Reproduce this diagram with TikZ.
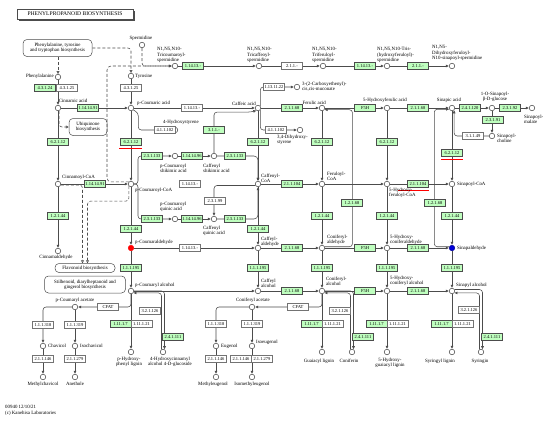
\documentclass[tikz,border=0pt]{standalone}
\usepackage{fontspec}
\setmainfont{Liberation Serif}
\usetikzlibrary{arrows.meta,calc}
\definecolor{kg}{HTML}{BFFFBF}
\begin{document}
\begin{tikzpicture}[x=1pt,y=-1pt,font=\fontsize{4.9}{5.2}\selectfont]
\tikzset{
 cpd/.style={circle,draw=black!75,fill=white,minimum size=5.5pt,inner sep=0,line width=0.5pt},
 ecg/.style={draw=black!70,fill=kg,minimum width=21pt,minimum height=7pt,inner sep=0,line width=0.4pt,font=\fontsize{4.5}{5}\selectfont},
 ecw/.style={ecg,fill=white,draw=black!55},
 lbl/.style={inner sep=0,align=center},
 lbll/.style={inner sep=0,align=left,anchor=west},
 mapb/.style={draw=black!70,rounded corners=4pt,align=center,inner sep=1pt,line width=0.5pt,fill=white},
 ln/.style={draw=black!70,line width=0.55pt},
 ar/.style={ln,-{Latex[length=3.2pt,width=3pt]}},
 da/.style={ln,dash pattern=on 3pt off 2pt},
 oa/.style={-{Triangle[open,length=3pt,width=3pt]}},
 ru/.style={draw=red,line width=0.8pt},
}
\useasboundingbox (0,0) rectangle (550,423);
\fill[white] (0,0) rectangle (550,423);
% ---------- compounds
\node[cpd] (phe) at (58,77) {};
\node[cpd] (tyr) at (131,76) {};
\node[cpd] (cin) at (58,108) {};
\node[cpd] (pcou) at (131,108) {};
\node[cpd] (caf) at (258,108) {};
\node[cpd] (fer) at (322,108) {};
\node[cpd] (hfer) at (387,108) {};
\node[cpd] (sin) at (452,108) {};
\node[cpd] (sglc) at (492,108) {};
\node[cpd] (smal) at (532,108) {};
\node[cpd] (schol) at (492,136) {};
\node[cpd] (spd) at (142,45) {};
\node[cpd] (tcs) at (175,66) {};
\node[cpd] (tcafs) at (259,66) {};
\node[cpd] (tfs) at (323,66) {};
\node[cpd] (thfs) at (387,66) {};
\node[cpd] (dhfs) at (452,66) {};
\node[cpd] (hsty) at (175,130) {};
\node[cpd] (dhsty) at (300,130) {};
\node[cpd] (carbm) at (297,87) {};
\node[cpd] (pcs) at (175,156) {};
\node[cpd] (cs) at (214,156) {};
\node[cpd] (pcq) at (175,219) {};
\node[cpd] (cq) at (214,219) {};
\node[cpd] (cincoa) at (58,184) {};
\node[cpd] (pcoa) at (131,184) {};
\node[cpd] (cafcoa) at (258,184) {};
\node[cpd] (fercoa) at (322,184) {};
\node[cpd] (hfcoa) at (387,184) {};
\node[cpd] (sincoa) at (452,184) {};
\node[cpd] (cinald) at (58,251) {};
\node[cpd,fill=red,draw=red] (pcald) at (131,248) {};
\node[cpd] (cafald) at (258,248) {};
\node[cpd] (conald) at (322,248) {};
\node[cpd] (hconald) at (387,248) {};
\node[cpd,fill=blue!85!black,draw=blue!60!black] (sinald) at (452,248) {};
\node[cpd] (pcalc) at (131,291) {};
\node[cpd] (cafalc) at (258,291) {};
\node[cpd] (conalc) at (322,291) {};
\node[cpd] (hconalc) at (387,291) {};
\node[cpd] (sinalc) at (452,291) {};
\node[cpd] (pcac) at (75,307) {};
\node[cpd] (chav) at (43,346) {};
\node[cpd] (isochav) at (75,346) {};
\node[cpd] (mchav) at (43,377) {};
\node[cpd] (anet) at (75,377) {};
\node[cpd] (phl) at (131,352) {};
\node[cpd] (pcglc) at (163,352) {};
\node[cpd] (conac) at (252,307) {};
\node[cpd] (eug) at (216,346) {};
\node[cpd] (isoeug) at (252,346) {};
\node[cpd] (meug) at (216,377) {};
\node[cpd] (imeug) at (252,377) {};
\node[cpd] (gl) at (322,352) {};
\node[cpd] (coni) at (352,352) {};
\node[cpd] (hgl) at (387,352) {};
\node[cpd] (sl) at (452,352) {};
\node[cpd] (syr) at (481,352) {};
% ---------- pathway maps
\node[mapb,minimum width=69pt,minimum height=17pt] (mphe) at (57.5,48) {Phenylalanine, tyrosine\\and tryptophan biosynthesis};
\node[mapb,minimum width=38pt,minimum height=17pt] (mubi) at (88,127) {Ubiquinone\\biosynthesis};
\node[mapb,minimum width=60pt,minimum height=9pt] (mflav) at (85,268) {Flavonoid biosynthesis};
\node[mapb,minimum width=81pt,minimum height=17pt] (mstil) at (85,284.5) {Stilbenoid, diarylheptanoid and\\gingerol biosynthesis};
% ---------- title
\draw[black!70,line width=1.2pt] (18.5,20) -- (134,20) -- (134,10.5);
\node[draw=black!70,line width=0.6pt,fill=white,minimum width=116pt,minimum height=10pt,inner sep=0,font=\fontsize{5.6}{6}\selectfont] (title) at (75,14) {PHENYLPROPANOID BIOSYNTHESIS};
% ---------- connectors
\draw[da,oa] (mphe.south -| phe) -- (phe);
\draw[da,oa,rounded corners=3] (mphe.east) -| (tyr.north);
\draw[ar] (phe) -- (cin);
\draw[ar] (tyr) -- (pcou);
\draw[ar] (cin) -- (pcou);
\draw[da,oa,rounded corners=3] (cin.-70) |- (mubi.west);
\draw[ar] (cin) -- (cincoa);
\draw[ar] (pcou) -- (pcoa);
\draw[ar] (cincoa) -- (pcoa);
\draw[ar] (pcou) -- (caf);
\draw[ar,rounded corners=3] (pcou.-40) -- ++(5,3) |- (hsty);
\draw[ar,rounded corners=3] (caf.40) |- (carbm);
\draw[ar,rounded corners=3] (caf.-40) |- (dhsty);
\draw[ar] (caf) -- (fer);
\draw[ar] (fer) -- (hfer);
\draw[ar] (hfer) -- (sin);
\draw[ar] (sin) -- (sglc);
\draw[ar] (sglc) -- (smal);
\draw[ar] (sglc) -- (schol);
\draw[ar,rounded corners=3] (schol.west) -| (sin.-45);
\draw[ar] (caf) -- (cafcoa);
\draw[ar] (fer) -- (fercoa);
\draw[ar] (hfer) -- (hfcoa);
\draw[ar] (sin) -- (sincoa);
\draw[ar] (cafcoa) -- (fercoa);
\draw[ar] (fercoa) -- (hfcoa);
\draw[ar] (hfcoa) -- (sincoa);
\draw[ar] (cincoa) -- (cinald);
\draw[ar] (pcoa) -- (pcald);
\draw[ar] (cafcoa) -- (cafald);
\draw[ar] (fercoa) -- (conald);
\draw[ar] (hfcoa) -- (hconald);
\draw[ar] (sincoa) -- (sinald);
\draw[ar] (pcald) -- (cafald);
\draw[ar] (cafald) -- (conald);
\draw[ar] (conald) -- (hconald);
\draw[ar] (hconald) -- (sinald);
\draw[ar,rounded corners=3] (conald.25) -| ($(fer.-35)+(28,0)$) -- (fer.-35);
\draw[ar,rounded corners=3] (sinald.155) -| ($(sin.205)+(-15,0)$) -- (sin.205);
% shikimate / quinate
\draw[ar,rounded corners=3] (pcoa.east) -- ++(4,0) |- (pcs.west);
\draw[ar,rounded corners=3] (pcoa.east) -- ++(4,0) |- (pcq.west);
\draw[ar] (pcs) -- (cs);
\draw[ar] (pcq) -- (cq);
\draw[ar,rounded corners=4] (cs.east) -| (cafcoa.north);
\draw[ar,rounded corners=4] (cq.east) -| (cafcoa.south);
\draw[ar,rounded corners=3] (cs.north) |- ($(caf.-120)+(-6,1.5)$) -- (caf.-120);
\draw[ar,rounded corners=3] (cafcoa.-150) -| (cq.north);
% spermidine
\draw[da,-{Latex[length=3.2pt,width=3pt]},rounded corners=3] (spd.south) |- (tcs.west);
\draw[da,-{Latex[length=3.2pt,width=3pt]},rounded corners=4] (pcoa.north west) -| (107,66) -- (tcs.west);
\draw[ar] (tcs) -- (tcafs);
\draw[ar] (tcafs) -- (tfs);
\draw[ar] (tfs) -- (thfs);
\draw[ar] (thfs) -- (dhfs);
% flavonoid
\draw[da,oa,rounded corners=3] (cincoa.-20) -| ($(mflav.north)+(-2.5,0)$);
\draw[da,oa,rounded corners=3] (pcoa.225) -- ++(0,15) -| ($(mflav.north)+(2.5,0)$);
% alcohols
\draw[ar] (pcald) -- (pcalc);
\draw[ar] (cafald) -- (cafalc);
\draw[ar] (conald) -- (conalc);
\draw[ar] (hconald) -- (hconalc);
\draw[ar] (sinald) -- (sinalc);
\draw[ar] (pcalc) -- (cafalc);
\draw[ar] (cafalc) -- (conalc);
\draw[ar] (conalc) -- (hconalc);
\draw[ar] (hconalc) -- (sinalc);
\draw[ar] (pcalc) -- (phl);
\draw[ar] (conalc) -- (gl);
\draw[ar] (hconalc) -- (hgl);
\draw[ar] (sinalc) -- (sl);
\draw[ar,rounded corners=3] (pcalc.east) -| (pcglc.60);
\draw[ar,rounded corners=3] (pcglc.120) |- (pcalc.-40);
\draw[ar,rounded corners=3] (conalc.east) -| (coni.60);
\draw[ar,rounded corners=3] (coni.120) |- (conalc.-40);
\draw[ar,rounded corners=3] (sinalc.30) -| (syr.60);
\draw[ar,rounded corners=3] (syr.120) |- (sinalc.-40);
\draw[ar,rounded corners=3] (pcalc.south) |- (pcac.east);
\draw[ar,rounded corners=3] (conalc.south) |- (conac.east);
\draw[ar,rounded corners=3] (pcac.west) -| (chav.north);
\draw[ar] (pcac) -- (isochav);
\draw[ar] (chav) -- (mchav);
\draw[ar] (isochav) -- (anet);
\draw[ar,rounded corners=3] (conac.west) -| (eug.north);
\draw[ar] (conac) -- (isoeug);
\draw[ar] (eug) -- (meug);
\draw[ar] (isoeug) -- (imeug);
% ---------- enzymes
\node[ecg] (e1) at (45,88) {4.3.1.24};
\node[ecw] (e2) at (67,88) {4.3.1.25};
\node[ecw] (e3) at (131,88) {4.3.1.25};
\node[ecg] (e4) at (88,108) {1.14.14.91};
\node[ecg] (e5) at (58,142) {6.2.1.12};
\node[ecg] (e6) at (131,142) {6.2.1.12};
\node[ecw] (e7) at (192,108) {1.14.13.-};
\node[ecw] (e8) at (165,130) {4.1.1.102};
\node[ecg] (e9) at (214,130) {3.1.1.-};
\node[ecw] (e10) at (274,87) {1.13.11.22};
\node[ecw] (e11) at (276,130) {4.1.1.102};
\node[ecg] (e12) at (258,142) {6.2.1.12};
\node[ecg] (e13) at (292,108) {2.1.1.68};
\node[ecg] (e14) at (322,142) {6.2.1.12};
\node[ecg] (e15) at (365,108) {F5H};
\node[ecg] (e16) at (387,142) {6.2.1.12};
\node[ecg] (e17) at (418,108) {2.1.1.68};
\node[ecg] (e18) at (470,108) {2.4.1.120};
\node[ecg] (e19) at (510,108) {2.3.1.92};
\node[ecg] (e20) at (493,120) {2.3.1.91};
\node[ecw] (e21) at (473,136) {3.1.1.49};
\node[ecg] (e22) at (452,153) {6.2.1.12};
\node[ecg] (e23) at (193,66) {1.14.13.-};
\node[ecw] (e24) at (292,66) {2.1.1.-};
\node[ecg] (e25) at (365,66) {1.14.13.-};
\node[ecg] (e26) at (418,66) {2.1.1.-};
\node[ecg] (e27) at (152,156) {2.3.1.133};
\node[ecg] (e28) at (192,156) {1.14.14.96};
\node[ecg] (e29) at (235,156) {2.3.1.133};
\node[ecg] (e30) at (95,184) {1.14.14.91};
\node[ecw] (e31) at (190,184) {1.14.13.-};
\node[ecw] (e32) at (215,201) {2.3.1.99};
\node[ecg] (e33) at (152,219) {2.3.1.133};
\node[ecg] (e34) at (192,219) {1.14.14.96};
\node[ecg] (e35) at (235,219) {2.3.1.133};
\node[ecg] (e36) at (292,184) {2.1.1.104};
\node[ecg] (e37) at (418,184) {2.1.1.104};
\node[ecg] (e38) at (58,216) {1.2.1.44};
\node[ecg] (e39) at (131,229) {1.2.1.44};
\node[ecg] (e40) at (258,229) {1.2.1.44};
\node[ecg] (e41) at (322,216) {1.2.1.44};
\node[ecg] (e42) at (387,216) {1.2.1.44};
\node[ecg] (e43) at (452,216) {1.2.1.44};
\node[ecg] (e44) at (352,203) {1.2.1.68};
\node[ecg] (e45) at (435,203) {1.2.1.68};
\node[ecw] (e46) at (190,248) {1.14.13.-};
\node[ecg] (e47) at (292,248) {2.1.1.68};
\node[ecg] (e48) at (365,248) {F5H};
\node[ecg] (e49) at (418,248) {2.1.1.68};
\node[ecg] (e50) at (131,268) {1.1.1.195};
\node[ecg] (e51) at (258,268) {1.1.1.195};
\node[ecg] (e52) at (322,268) {1.1.1.195};
\node[ecg] (e53) at (387,268) {1.1.1.195};
\node[ecg] (e54) at (452,268) {1.1.1.195};
\node[ecg] (e55) at (292,291) {2.1.1.68};
\node[ecg] (e56) at (365,291) {F5H};
\node[ecg] (e57) at (418,291) {2.1.1.68};
\node[ecg] (e58) at (120.5,324) {1.11.1.7};
\node[ecw] (e59) at (141.5,324) {1.11.1.21};
\node[ecg] (e60) at (311.5,324) {1.11.1.7};
\node[ecw] (e61) at (332.5,324) {1.11.1.21};
\node[ecg] (e62) at (376.5,324) {1.11.1.7};
\node[ecw] (e63) at (397.5,324) {1.11.1.21};
\node[ecg] (e64) at (441.5,324) {1.11.1.7};
\node[ecw] (e65) at (462.5,324) {1.11.1.21};
\node[ecw] (e66) at (150,311) {3.2.1.126};
\node[ecw] (e67) at (340,311) {3.2.1.126};
\node[ecw] (e68) at (469,310) {3.2.1.126};
\node[ecg] (e69) at (173,337) {2.4.1.111};
\node[ecg] (e70) at (363,337) {2.4.1.111};
\node[ecg] (e71) at (492,337) {2.4.1.111};
\node[ecw] (e72) at (108,307) {CFAT};
\node[ecw] (e73) at (298,307) {CFAT};
\node[ecw] (e74) at (43,325) {1.1.1.318};
\node[ecw] (e75) at (75,325) {1.1.1.319};
\node[ecw] (e76) at (216,324) {1.1.1.318};
\node[ecw] (e77) at (252,324) {1.1.1.319};
\node[ecw] (e78) at (43,359) {2.1.1.146};
\node[ecw] (e79) at (75,359) {2.1.1.279};
\node[ecw] (e80) at (216,359) {2.1.1.146};
\node[ecw] (e81) at (241,359) {2.1.1.146};
\node[ecw] (e82) at (262,359) {2.1.1.279};
% red marks
\draw[ru] ($(e6.south west)+(-1,2.5)$) -- ($(e6.south east)+(0,2.5)$);
\draw[ru] ($(e22.south west)+(0,3)$) -- ($(e22.south east)+(0,3)$);
\draw[ru] ($(e37.south west)+(-9,2.5)$) -- ($(e37.south east)+(0,2.5)$);
% ---------- labels
\node[lbl,anchor=east] (lphe) at (54,76.5) {Phenylalanine};
\node[lbll] (ltyr) at (135,76) {Tyrosine};
\node[lbl] (lcin) at (73,101) {Cinnamic acid};
\node[lbll] (lpcou) at (137,103) {p-Coumaric acid};
\node[lbl,anchor=east] (lcaf) at (256,103.5) {Caffeic acid};
\node[lbl,anchor=east] (lfer) at (326,102.5) {Ferulic acid};
\node[lbll] (lhfer) at (363,100.5) {5-Hydroxyferulic acid};
\node[lbl] (lsin) at (449,100.5) {Sinapic acid};
\node[lbl] (lsglc) at (495,97) {1-O-Sinapoyl-\\β-D-glucose};
\node[lbll] (lsmal) at (524,119) {Sinapoyl-\\malate};
\node[lbll] (lschol) at (497,138) {Sinapoyl-\\choline};
\node[lbl] (lspd) at (141,38) {Spermidine};
\node[lbll] (ltcs) at (157,55) {N1,N5,N10-\\Tricoumaroyl-\\spermidine};
\node[lbll] (ltcafs) at (247,55) {N1,N5,N10-\\Tricaffeoyl-\\spermidine};
\node[lbll] (ltfs) at (312,55) {N1,N5,N10-\\Triferuloyl-\\spermidine};
\node[lbll] (lthfs) at (377,55) {N1,N5,N10-Tris-\\(hydroxyferuloyl)-\\spermidine};
\node[lbll] (ldhfs) at (432,53) {N1,N5-\\Dihydroxyferuloyl-\\N10-sinapoyl-spermidine};
\node[lbll] (lhsty) at (163,122.5) {4-Hydroxystyrene};
\node[lbll] (ldhsty) at (277,139.5) {3,4-Dihydroxy-\\styrene};
\node[lbll] (lcarbm) at (302,87) {3-(2-Carboxyethenyl)-\\cis,cis-muconate};
\node[lbll] (lpcs) at (160,168) {p-Coumaroyl\\shikimic acid};
\node[lbll] (lcs) at (203,168) {Caffeoyl\\shikimic acid};
\node[lbll] (lpcq) at (160,207) {p-Coumaroyl\\quinic acid};
\node[lbll] (lcq) at (203,231) {Caffeoyl\\quinic acid};
\node[lbll] (lcincoa) at (62,177) {Cinnamoyl-CoA};
\node[lbll] (lpcoa) at (135,190) {p-Coumaroyl-CoA};
\node[lbll] (lcafcoa) at (261,178) {Caffeoyl-\\CoA};
\node[lbll] (lfercoa) at (327,176) {Feruloyl-\\CoA};
\node[lbll] (lhfcoa) at (389,193) {5-Hydroxy-\\feruloyl-CoA};
\node[lbll] (lsincoa) at (457,184) {Sinapoyl-CoA};
\node[lbl] (lcinald) at (56,257.5) {Cinnamaldehyde};
\node[lbll] (lpcald) at (135,242.5) {p-Coumaraldehyde};
\node[lbll] (lcafald) at (261,242) {Caffeyl-\\aldehyde};
\node[lbll] (lconald) at (327,240) {Coniferyl-\\aldehyde};
\node[lbll] (lhconald) at (390,240) {5-Hydroxy-\\coniferaldehyde};
\node[lbll] (lsinald) at (457,248) {Sinapaldehyde};
\node[lbll] (lpcalc) at (135,285) {p-Coumaryl alcohol};
\node[lbll] (lcafalc) at (261,283) {Caffeyl\\alcohol};
\node[lbll] (lconalc) at (326,281) {Coniferyl-\\alcohol};
\node[lbll] (lhconalc) at (390,281) {5-Hydroxy-\\coniferyl alcohol};
\node[lbll] (lsinalc) at (456,285) {Sinapyl alcohol};
\node[lbl] (lpcac) at (75,300.5) {p-Coumaryl acetate};
\node[lbll] (lchav) at (48,346) {Chavicol};
\node[lbll] (lisochav) at (80,346) {Isochavicol};
\node[lbl] (lmchav) at (43,384) {Methylchavicol};
\node[lbl] (lanet) at (75,384) {Anethole};
\node[lbl] (lphl) at (129,362) {p-Hydroxy-\\phenyl lignin};
\node[lbl] (lpcglc) at (170,362) {4-Hydroxycinnamyl\\alcohol 4-D-glucoside};
\node[lbl] (lconac) at (253,300.5) {Coniferyl acetate};
\node[lbll] (leug) at (221,346) {Eugenol};
\node[lbll] (lisoeug) at (256,342) {Isoeugenol};
\node[lbl] (lmeug) at (213,384) {Methyleugenol};
\node[lbl] (limeug) at (252,384) {Isomethyleugenol};
\node[lbl] (lgl) at (319,361) {Guaiacyl lignin};
\node[lbl] (lconi) at (349,361) {Coniferin};
\node[lbl] (lhgl) at (390,363) {5-Hydroxy-\\guaiacyl lignin};
\node[lbl] (lsl) at (440,361) {Syringyl lignin};
\node[lbl] (lsyr) at (480,361) {Syringin};
\node[lbll] (foot1) at (5,407) {00940 12/10/21};
\node[lbll] (foot2) at (5,413) {(c) Kanehisa Laboratories};
\end{tikzpicture}
\end{document}
